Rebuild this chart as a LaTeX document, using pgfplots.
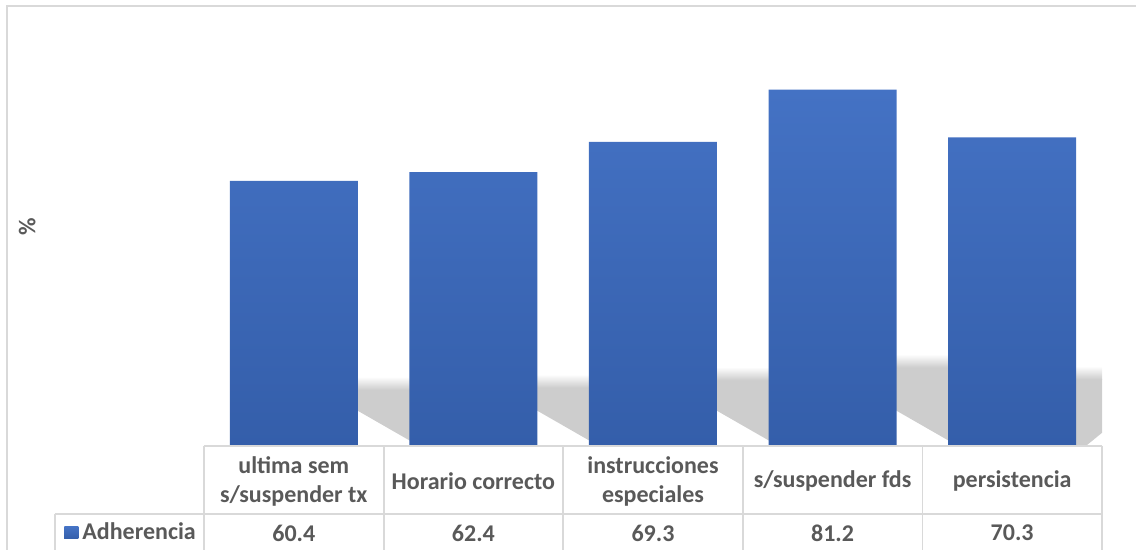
\documentclass[border=0pt]{standalone}
\usepackage{pgfplots}
\usepackage{pgfplotstable}
\pgfplotsset{compat=1.18}
\usepackage{fontspec}
\setmainfont{Carlito}
\definecolor{barTop}{RGB}{68,114,196}
\definecolor{barBot}{RGB}{52,94,170}
\definecolor{txt}{RGB}{89,89,89}
\definecolor{gridc}{RGB}{217,217,217}
\definecolor{shadowc}{RGB}{205,205,205}

\pgfplotstableread{
x value
0 60.4
1 62.4
2 69.3
3 81.2
4 70.3
}\datatable

\begin{document}
\begin{tikzpicture}
\useasboundingbox (-102pt,-52pt) rectangle (466pt,223pt);
\draw[gridc, line width=0.9pt] (-98.5pt,-70pt) -- (-98.5pt,220pt) -- (480pt,220pt);
\begin{axis}[
  at={(0,0)}, anchor=south west,
  scale only axis, width=449pt, height=219.5pt,
  xmin=-0.5, xmax=4.5, ymin=0, ymax=100,
  clip=false,
  separate axis lines,
  axis line style={draw=none},
  tick style={draw=none},
  ytick=\empty,
  xtick={0,1,2,3,4},
  xticklabels={{ultima sem\\s/suspender tx},{Horario correcto},{instrucciones\\especiales},{s/suspender fds},{persistencia}},
  xticklabel style={anchor=center, yshift=-17.5pt, align=center, font=\bfseries\fontsize{12}{14.5}\selectfont, text=txt},
  ylabel={\%},
  ylabel style={at={(axis description cs:-0.197,0.5)}, anchor=center, font=\bfseries\fontsize{12}{14}\selectfont, text=txt},
  legend cell align=left,
  legend style={at={(axis description cs:-0.1559,-0.198)}, anchor=west, draw=none, fill=none, inner sep=0pt,
    font=\bfseries\fontsize{12}{14}\selectfont, text=txt},
]
% perspective shadows (solid part)
\addplot[forget plot, draw=none, fill=shadowc] coordinates {(0.336,8.5) (0.664,0.8) (0.664,12.8) (0.336,12.8)} -- cycle;
\addplot[forget plot, draw=none, fill=shadowc] coordinates {(1.336,8.5) (1.664,0.8) (1.664,13.3) (1.336,13.3)} -- cycle;
\addplot[forget plot, draw=none, fill=shadowc] coordinates {(2.336,8.5) (2.664,0.8) (2.664,15.0) (2.336,15.0)} -- cycle;
\addplot[forget plot, draw=none, fill=shadowc] coordinates {(3.336,8.5) (3.664,0.8) (3.664,17.9) (3.336,17.9)} -- cycle;
\addplot[forget plot, draw=none, fill=shadowc] coordinates {(4.336,0) (4.41,0) (4.5,3) (4.5,15.2) (4.336,15.2)} -- cycle;
% perspective shadows (fading top)
\addplot[forget plot, draw=none, top color=white, bottom color=shadowc] coordinates {(0.336,12.8) (0.664,12.8) (0.664,15.8) (0.336,15.8)} -- cycle;
\addplot[forget plot, draw=none, top color=white, bottom color=shadowc] coordinates {(1.336,13.3) (1.664,13.3) (1.664,16.3) (1.336,16.3)} -- cycle;
\addplot[forget plot, draw=none, top color=white, bottom color=shadowc] coordinates {(2.336,15.0) (2.664,15.0) (2.664,18.0) (2.336,18.0)} -- cycle;
\addplot[forget plot, draw=none, top color=white, bottom color=shadowc] coordinates {(3.336,17.9) (3.664,17.9) (3.664,20.9) (3.336,20.9)} -- cycle;
\addplot[forget plot, draw=none, top color=white, bottom color=shadowc] coordinates {(4.336,15.2) (4.5,15.2) (4.5,18.2) (4.336,18.2)} -- cycle;
% bars
\addplot[ybar, bar width=64pt, draw=none, top color=barTop, bottom color=barBot,
  legend image code/.code={\fill[barTop] (0pt,-3pt) rectangle (7pt,3pt);}]
  table[x=x, y=value] {\datatable};
\addlegendentry{Adherencia}
% values in data table
\addplot[forget plot, draw=none, mark=none, nodes near coords, point meta=explicit symbolic,
  every node near coord/.append style={anchor=center, yshift=-43.5pt, font=\bfseries\fontsize{12}{14}\selectfont, text=txt}]
  table[x=x, y expr=0, meta=value] {\datatable};
\end{axis}
% data table grid
\draw[gridc, line width=0.9pt] (0pt,0pt) -- (449pt,0pt);
\draw[gridc, line width=0.9pt] (-74.5pt,-34pt) -- (449pt,-34pt);
\draw[gridc, line width=0.9pt] (-74.5pt,-34pt) -- (-74.5pt,-60pt);
\draw[gridc, line width=0.9pt] (0pt,0pt) -- (0pt,-60pt);
\draw[gridc, line width=0.9pt] (89.8pt,0pt) -- (89.8pt,-60pt);
\draw[gridc, line width=0.9pt] (179.6pt,0pt) -- (179.6pt,-60pt);
\draw[gridc, line width=0.9pt] (269.4pt,0pt) -- (269.4pt,-60pt);
\draw[gridc, line width=0.9pt] (359.2pt,0pt) -- (359.2pt,-60pt);
\draw[gridc, line width=0.9pt] (449pt,0pt) -- (449pt,-60pt);
\end{tikzpicture}
\end{document}
